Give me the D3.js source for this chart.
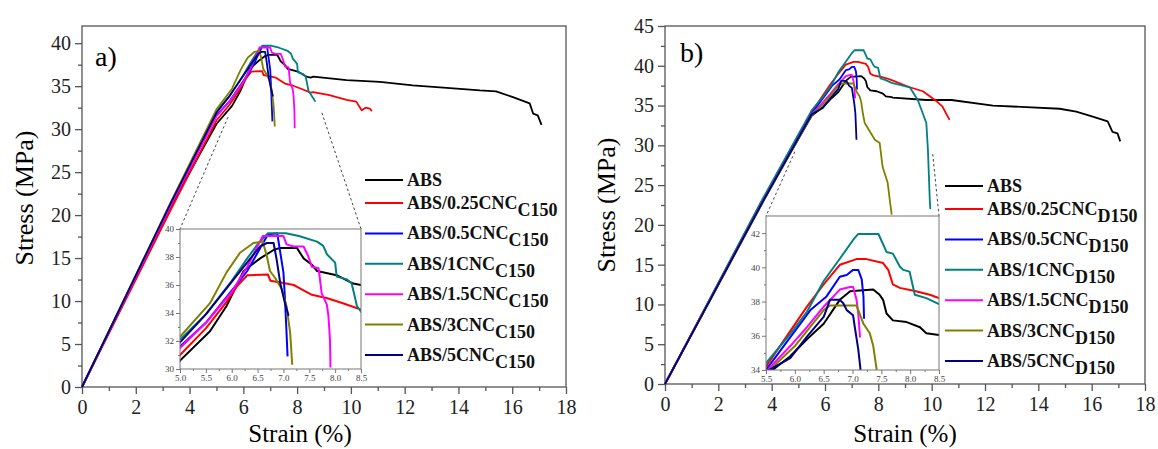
<!DOCTYPE html>
<html>
<head>
<meta charset="utf-8">
<script src="https://cdn.jsdelivr.net/npm/d3@7"></script>
<style>
body { margin: 0; background: #fff; }
svg { display: block; }
svg text { font-family: "Times New Roman", Times, "Liberation Serif", "DejaVu Serif", serif; }
</style>
</head>
<body>
<svg id="paper" width="1158" height="449"></svg>
<script>
// series labels and colours (same order in both panels)
let names = ["ABS", "ABS/0.25CNC", "ABS/0.5CNC", "ABS/1CNC", "ABS/1.5CNC", "ABS/3CNC", "ABS/5CNC"];
let subsA = ["", "C150", "C150", "C150", "C150", "C150", "C150"];
let subsB = ["", "D150", "D150", "D150", "D150", "D150", "D150"];
let colors = ["#000000", "#ff0000", "#0000ff", "#008080", "#ff00ff", "#808000", "#000080"];

// axis ticks
let strainTicks = [0, 2, 4, 6, 8, 10, 12, 14, 16, 18];
let stressTicksA = [0, 5, 10, 15, 20, 25, 30, 35, 40];
let stressTicksB = [0, 5, 10, 15, 20, 25, 30, 35, 40, 45];
let insetXTicksA = [5.0, 5.5, 6.0, 6.5, 7.0, 7.5, 8.0, 8.5];
let insetYTicksA = [30, 32, 34, 36, 38, 40];
let insetXTicksB = [5.5, 6.0, 6.5, 7.0, 7.5, 8.0, 8.5];
let insetYTicksB = [34, 36, 38, 40, 42];

// a) C150 series: [strain %, stress MPa]
let c150_abs = [[0,0],[3.3,21.0],[5.0,30.6],[5.58,32.7],[5.9,34.5],[6.23,37.0],[6.55,37.9],[6.81,38.5],[6.94,38.65],[7.26,38.65],[7.39,37.9],[7.55,37.45],[7.65,37.0],[8.03,36.7],[8.35,36.1],[8.5,36.0],[8.6,36.1],[9.84,35.7],[11.08,35.5],[12.3,35.1],[13.56,34.8],[14.8,34.5],[15.4,34.4],[16.0,33.75],[16.65,33.0],[16.78,31.8],[16.95,31.6],[17.09,30.5]];
let c150_025 = [[0,0],[3.3,20.6],[5.0,31.0],[5.5,32.9],[5.9,34.8],[6.1,35.9],[6.3,36.7],[6.7,36.75],[6.75,36.3],[7.0,36.15],[7.2,36.0],[7.3,35.8],[7.55,35.3],[7.85,35.05],[8.15,34.7],[8.5,34.25],[8.6,34.3],[9.2,33.95],[9.84,33.4],[10.2,33.2],[10.4,32.2],[10.55,32.5],[10.7,32.4],[10.78,32.1]];
let c150_05 = [[0,0],[3.3,21.2],[5.0,31.6],[5.5,33.3],[6.0,35.6],[6.3,37.0],[6.5,38.3],[6.7,39.6],[6.88,39.7],[6.94,38.3],[7.0,36.9],[7.03,35.0],[7.06,32.6],[7.08,30.9]];
let c150_1 = [[0,0],[3.3,21.3],[5.0,32.1],[5.5,33.9],[6.0,36.3],[6.3,37.9],[6.5,38.9],[6.7,39.7],[7.05,39.7],[7.3,39.5],[7.65,39.1],[7.77,38.8],[7.84,38.2],[8.0,37.6],[8.03,36.6],[8.23,36.4],[8.32,36.1],[8.39,35.0],[8.42,34.5],[8.5,34.1],[8.6,33.6],[8.68,33.2]];
let c150_15 = [[0,0],[3.3,21.1],[5.0,31.5],[5.5,33.3],[6.0,35.5],[6.3,37.3],[6.6,39.5],[7.0,39.5],[7.06,38.9],[7.19,38.75],[7.39,38.75],[7.48,38.05],[7.55,37.3],[7.68,37.2],[7.74,35.4],[7.84,34.6],[7.87,33.8],[7.9,32.1],[7.91,30.1]];
let c150_3 = [[0,0],[3.3,21.5],[5.0,32.3],[5.58,34.7],[5.9,36.9],[6.16,38.3],[6.42,39.0],[6.6,39.1],[6.68,38.05],[6.74,37.0],[6.84,36.5],[6.97,35.7],[7.06,34.5],[7.13,32.6],[7.17,30.3]];
let c150_5 = [[0,0],[3.3,21.4],[5.0,31.9],[5.5,33.9],[6.23,37.3],[6.55,38.76],[6.68,39.0],[6.81,39.0],[6.87,37.8],[6.94,36.1],[7.03,34.7],[7.1,33.8]];

// b) D150 series
let d150_abs = [[0,0],[3.6,22.6],[5.5,33.7],[5.92,34.8],[6.21,35.8],[6.5,36.7],[6.78,38.1],[6.96,38.6],[7.36,38.7],[7.47,38.4],[7.53,38.1],[7.59,37.3],[7.7,36.9],[7.94,36.8],[8.17,36.5],[8.28,36.15],[8.5,36.05],[8.54,36.0],[9.8,35.7],[10.74,35.7],[12.3,35.0],[13.55,34.8],[14.8,34.6],[15.42,34.25],[16.04,33.6],[16.6,33.0],[16.78,31.7],[16.97,31.5],[17.07,30.5]];
let d150_025 = [[0,0],[3.6,22.8],[5.5,34.2],[6.21,37.7],[6.5,39.0],[6.78,40.15],[7.07,40.48],[7.24,40.48],[7.53,40.25],[7.62,39.85],[7.7,39.0],[7.82,38.8],[8.1,38.6],[8.34,38.4],[8.5,38.2],[9.18,37.3],[9.67,36.8],[10.2,35.5],[10.4,34.9],[10.67,33.2]];
let d150_05 = [[0,0],[3.6,22.6],[5.5,34.0],[6.27,37.5],[6.55,38.3],[6.78,39.45],[6.9,39.55],[7.01,39.85],[7.1,39.85],[7.16,39.3],[7.19,38.3],[7.2,37.0]];
let d150_1 = [[0,0],[3.6,22.9],[5.5,34.4],[5.92,36.1],[6.21,37.4],[6.5,39.2],[6.78,40.5],[7.01,41.6],[7.1,41.95],[7.45,41.95],[7.59,40.9],[7.7,40.8],[7.82,40.05],[7.88,39.85],[7.99,39.75],[8.08,38.4],[8.28,38.2],[8.5,37.85],[9.18,37.3],[9.48,35.7],[9.8,32.8],[9.86,29.4],[9.93,23.1],[9.95,22.0]];
let d150_15 = [[0,0],[3.6,22.5],[5.5,33.9],[5.92,35.4],[6.21,36.5],[6.5,37.7],[6.67,38.3],[6.78,38.7],[6.96,38.85],[7.01,38.85],[7.07,38.1],[7.1,37.3],[7.13,35.9]];
let d150_3 = [[0,0],[3.6,22.4],[5.5,33.8],[6.0,35.4],[6.5,37.5],[6.61,37.77],[7.07,37.77],[7.1,37.5],[7.19,36.7],[7.3,36.15],[7.36,35.4],[7.42,34.0],[7.49,32.8],[7.87,30.7],[8.05,30.3],[8.16,27.3],[8.35,25.3],[8.43,23.1],[8.5,21.3]];
let d150_5 = [[0,0],[3.6,22.5],[5.5,33.9],[5.92,34.7],[6.21,35.95],[6.5,37.1],[6.61,38.1],[6.78,38.1],[6.84,37.9],[6.9,37.5],[7.01,37.2],[7.04,36.5],[7.1,35.2],[7.14,34.0],[7.18,30.7]];

// main-plot points where the dotted zoom lines start
let zoomFromA = [[5.43, 31.4], [8.92, 31.9]];
let zoomFromB = [[4.87, 29.2], [10.04, 28.9]];

let svg = d3.select("#paper");

function minorOf(ticks) {
    let out = [];
    for (let i = 0; i < ticks.length - 1; i++) out.push((ticks[i] + ticks[i + 1]) / 2);
    return out;
}

function drawAxes(g, x, y, xt, yt, o) {
    let x0 = x.range()[0], x1 = x.range()[1], y0 = y.range()[0], y1 = y.range()[1];
    let bx = g.append("g").attr("transform", "translate(0," + y0 + ")");
    bx.append("g").call(d3.axisBottom(x).tickValues(minorOf(xt)).tickSize(o.minor).tickFormat(""));
    bx.append("g").call(d3.axisBottom(x).tickValues(xt).tickSize(o.major).tickPadding(o.padX).tickFormat(o.fmtX));
    let ly = g.append("g").attr("transform", "translate(" + x0 + ",0)");
    ly.append("g").call(d3.axisLeft(y).tickValues(minorOf(yt)).tickSize(o.minor).tickFormat(""));
    ly.append("g").call(d3.axisLeft(y).tickValues(yt).tickSize(o.major).tickPadding(o.padY).tickFormat(d3.format("d")));
    g.selectAll(".domain").remove();
    g.selectAll("g").attr("font-family", null);
    g.selectAll(".tick line").attr("stroke", o.stroke).attr("stroke-width", o.width);
    g.selectAll(".tick text").style("font-size", o.font).attr("fill", o.text);
    g.append("rect")
        .attr("x", x0).attr("y", y1).attr("width", x1 - x0).attr("height", y0 - y1)
        .attr("fill", "none").attr("stroke", o.stroke).attr("stroke-width", o.width);
}

function drawPanel(p) {
    let g = svg.append("g");
    let x = d3.scaleLinear().domain([0, 18]).range(p.xr);
    let y = d3.scaleLinear().domain(p.yd).range(p.yr);
    let line = d3.line().x(d => x(d[0])).y(d => y(d[1]));

    drawAxes(g, x, y, strainTicks, p.yt, {
        major: 7, minor: 4, padX: 6, padY: 4, font: "20px", text: "#222",
        stroke: "#555", width: 1.3, fmtX: d3.format("d")
    });

    g.selectAll(".curve").data(p.series).enter().append("path")
        .attr("class", "curve")
        .attr("d", line)
        .attr("fill", "none")
        .attr("stroke", (d, i) => colors[i])
        .attr("stroke-width", 1.8)
        .attr("stroke-linejoin", "round");

    // panel label and axis titles
    g.append("text").attr("x", p.labelXY[0]).attr("y", p.labelXY[1])
        .style("font-size", "28px").text(p.label);
    g.append("text")
        .attr("transform", "translate(" + p.yTitleXY[0] + "," + p.yTitleXY[1] + ") rotate(-90)")
        .attr("text-anchor", "middle").style("font-size", "26px")
        .text("Stress (MPa)");
    g.append("text").attr("x", p.xTitleXY[0]).attr("y", p.xTitleXY[1])
        .attr("text-anchor", "middle").style("font-size", "25px")
        .text("Strain (%)");

    // inset (zoom of peak region)
    let ix = d3.scaleLinear().domain(p.inset.xd).range(p.inset.xr);
    let iy = d3.scaleLinear().domain(p.inset.yd).range(p.inset.yr);
    let corners = [[ix.range()[0], iy.range()[1]], [ix.range()[1], iy.range()[1]]];
    g.selectAll(".zoomline").data(p.zoomFrom).enter().append("line")
        .attr("x1", d => x(d[0])).attr("y1", d => y(d[1]))
        .attr("x2", (d, i) => corners[i][0]).attr("y2", (d, i) => corners[i][1])
        .attr("stroke", "#444").attr("stroke-width", 1).attr("stroke-dasharray", "2.5,2.5");

    let ig = g.append("g");
    ig.append("rect")
        .attr("x", ix.range()[0]).attr("y", iy.range()[1])
        .attr("width", ix.range()[1] - ix.range()[0]).attr("height", iy.range()[0] - iy.range()[1])
        .attr("fill", "#fff");
    let clipId = "clip" + p.label.charAt(0);
    ig.append("clipPath").attr("id", clipId).append("rect")
        .attr("x", ix.range()[0]).attr("y", iy.range()[1])
        .attr("width", ix.range()[1] - ix.range()[0]).attr("height", iy.range()[0] - iy.range()[1]);
    let iline = d3.line().x(d => ix(d[0])).y(d => iy(d[1]));
    ig.append("g").attr("clip-path", "url(#" + clipId + ")")
        .selectAll("path").data(p.series).enter().append("path")
        .attr("d", iline)
        .attr("fill", "none")
        .attr("stroke", (d, i) => colors[i])
        .attr("stroke-width", 2)
        .attr("stroke-linejoin", "round");
    drawAxes(ig, ix, iy, p.inset.xt, p.inset.yt, {
        major: 4, minor: 2, padX: 2, padY: 2, font: "9px", text: "#444",
        stroke: "#777", width: 1, fmtX: d3.format(".1f")
    });

    // legend
    let lg = g.append("g").attr("transform", "translate(" + p.legendXY[0] + "," + p.legendXY[1] + ")");
    let rows = lg.selectAll("g").data(names).enter().append("g")
        .attr("transform", (d, i) => "translate(0," + (i === 0 ? 0 : 23 + (i - 1) * 30.4) + ")");
    rows.append("line").attr("x1", 0).attr("x2", 38).attr("y1", 0).attr("y2", 0)
        .attr("stroke", (d, i) => colors[i]).attr("stroke-width", 2);
    let t = rows.append("text").attr("x", 42).attr("y", 6)
        .style("font-size", "18px").attr("font-weight", "bold").attr("fill", "#111");
    t.append("tspan").text(d => d);
    t.append("tspan").attr("dy", 7).text((d, i) => p.subs[i]);
}

drawPanel({
    label: "a)", labelXY: [95, 66],
    xr: [82, 566], yr: [387, 26], yd: [0, 42], yt: stressTicksA,
    series: [c150_abs, c150_025, c150_05, c150_1, c150_15, c150_3, c150_5],
    subs: subsA, zoomFrom: zoomFromA,
    yTitleXY: [33, 198], xTitleXY: [300, 442],
    legendXY: [365, 180],
    inset: { xd: [5.0, 8.5], xr: [180, 361], yd: [30, 40], yr: [369, 229], xt: insetXTicksA, yt: insetYTicksA }
});

drawPanel({
    label: "b)", labelXY: [680, 62],
    xr: [665, 1145], yr: [384, 26], yd: [0, 45], yt: stressTicksB,
    series: [d150_abs, d150_025, d150_05, d150_1, d150_15, d150_3, d150_5],
    subs: subsB, zoomFrom: zoomFromB,
    yTitleXY: [615, 205], xTitleXY: [905, 442],
    legendXY: [945, 186],
    inset: { xd: [5.5, 8.5], xr: [766, 939], yd: [34, 43], yr: [370, 216], xt: insetXTicksB, yt: insetYTicksB }
});
</script>
</body>
</html>
